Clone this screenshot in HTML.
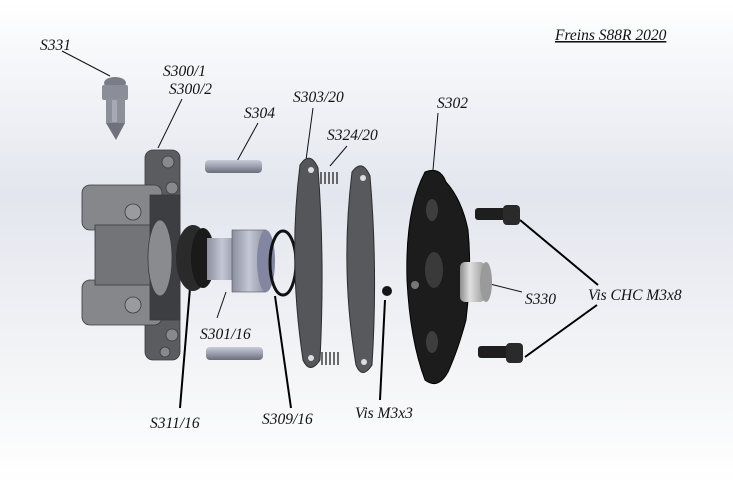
<!DOCTYPE html>
<html><head><meta charset="utf-8"><style>
html,body{margin:0;padding:0;width:733px;height:485px;overflow:hidden}
svg{display:block}
text{font-family:"Liberation Serif",serif;font-style:italic;font-size:15.5px;fill:#111}
</style></head><body>
<svg width="733" height="485" viewBox="0 0 733 485" xmlns="http://www.w3.org/2000/svg">
<defs>
<linearGradient id="bg" x1="0" y1="0" x2="0" y2="1">
<stop offset="0" stop-color="#ffffff"/><stop offset="0.4" stop-color="#e3e6ee"/><stop offset="0.7" stop-color="#f1f2f5"/><stop offset="1" stop-color="#ffffff"/>
</linearGradient>
<linearGradient id="pin" x1="0" y1="0" x2="0" y2="1"><stop offset="0" stop-color="#c8ccd8"/><stop offset="0.5" stop-color="#9a9eae"/><stop offset="1" stop-color="#6a6e7a"/></linearGradient>
<linearGradient id="pist" x1="0" y1="0" x2="1" y2="0"><stop offset="0" stop-color="#8a8e9e"/><stop offset="0.5" stop-color="#c4c7d4"/><stop offset="1" stop-color="#8f93a2"/></linearGradient>
<linearGradient id="cap" x1="0" y1="0" x2="1" y2="0"><stop offset="0" stop-color="#8c8c8c"/><stop offset="0.4" stop-color="#e0e0e0"/><stop offset="1" stop-color="#9a9a9a"/></linearGradient>
</defs>
<rect width="733" height="485" fill="url(#bg)"/>

<g stroke="#111" stroke-width="1" fill="none">
<line x1="62" y1="51" x2="110" y2="76"/>
<line x1="182" y1="99" x2="158" y2="148"/>
<line x1="258" y1="123" x2="236" y2="163"/>
<line x1="313" y1="108" x2="306" y2="160"/>
<line x1="347" y1="146" x2="330" y2="166"/>
<line x1="438" y1="113" x2="433" y2="170"/>
<line x1="522" y1="292" x2="490" y2="284"/>
<line x1="217" y1="318" x2="226" y2="292"/>
</g>
<g stroke="#000" stroke-width="2" fill="none">
<line x1="598" y1="285" x2="520" y2="220"/>
<line x1="597" y1="305" x2="525" y2="357"/>
<line x1="180" y1="408" x2="190" y2="288"/>
<line x1="291" y1="408" x2="275" y2="296"/>
<line x1="380" y1="400" x2="385" y2="300"/>
</g>

<!-- S331 bleeder -->
<g>
<ellipse cx="115" cy="83" rx="11" ry="6" fill="#7a7d88"/>
<rect x="102" y="85" width="26" height="15" rx="2" fill="#8b8e99"/>
<rect x="106" y="99" width="19" height="24" fill="#8d909b"/>
<polygon points="106,123 125,123 116,140" fill="#6f727c"/>
<rect x="112" y="100" width="5" height="22" fill="#a6a9b3"/>
</g>

<!-- caliper body -->
<g fill="#6e6f73" stroke="#3a3a3c" stroke-width="0.8">
<rect x="145" y="150" width="35" height="210" rx="8" fill="#5b5c60"/>
<rect x="82" y="185" width="80" height="45" rx="8" fill="#86878b"/>
<rect x="82" y="280" width="80" height="45" rx="8" fill="#86878b"/>
<rect x="95" y="225" width="60" height="60" fill="#737478"/>
<rect x="150" y="195" width="30" height="125" fill="#3d3e41"/>
<ellipse cx="160" cy="258" rx="12" ry="38" fill="#8a8b8f"/>
<circle cx="133" cy="212" r="8" fill="#9a9b9f"/>
<circle cx="133" cy="305" r="8" fill="#9a9b9f"/>
<circle cx="168" cy="162" r="6" fill="#88898d"/>
<circle cx="172" cy="188" r="6" fill="#88898d"/>
<circle cx="172" cy="335" r="6" fill="#88898d"/>
<circle cx="165" cy="352" r="5" fill="#88898d"/>
</g>

<ellipse cx="193" cy="258" rx="17" ry="33" fill="#2a2a2b"/>
<ellipse cx="203" cy="258" rx="12" ry="30" fill="#1a1a1a"/>
<rect x="207" y="238" width="30" height="42" fill="url(#pist)"/>
<rect x="232" y="230" width="34" height="62" fill="url(#pist)" stroke="#555" stroke-width="0.6"/>
<ellipse cx="266" cy="261" rx="9" ry="31" fill="#8286a0"/>
<ellipse cx="283" cy="263" rx="13" ry="32" fill="none" stroke="#111" stroke-width="3"/>

<rect x="205" y="160" width="57" height="13" rx="4" fill="url(#pin)"/>
<rect x="206" y="347" width="57" height="13" rx="4" fill="url(#pin)"/>

<path d="M300,165 Q310,150 318,168 Q325,260 320,360 Q310,375 303,360 Q288,260 300,165Z" fill="#555659" stroke="#2d2d2f"/>
<path d="M352,172 Q362,158 370,176 Q378,270 372,365 Q362,380 356,365 Q340,270 352,172Z" fill="#58595c" stroke="#2d2d2f"/>
<circle cx="311" cy="170" r="3" fill="#ddd"/><circle cx="311" cy="358" r="3" fill="#ddd"/>
<circle cx="363" cy="178" r="3" fill="#ddd"/><circle cx="364" cy="362" r="3" fill="#ddd"/>
<g stroke="#222" stroke-width="1.3" fill="none">
<path d="M321,172 v12 M325,172 v12 M329,172 v12 M333,172 v12 M337,172 v12"/>
<path d="M322,352 v13 M326,352 v13 M330,352 v13 M334,352 v13 M338,352 v13"/>
</g>
<circle cx="387" cy="291" r="5" fill="#151515"/>

<!-- S302 black plate -->
<path d="M425,172 Q440,166 446,182 Q462,200 468,230 Q472,270 466,320 Q458,350 448,372 Q438,390 425,380 Q410,340 407,280 Q405,210 425,172Z" fill="#1c1c1d" stroke="#000"/>
<ellipse cx="432" cy="210" rx="6" ry="11" fill="#3e3e3e"/>
<ellipse cx="434" cy="270" rx="9" ry="18" fill="#3a3a3a"/>
<ellipse cx="432" cy="342" rx="6" ry="11" fill="#3e3e3e"/>
<circle cx="415" cy="285" r="4" fill="#777"/>

<rect x="475" y="208" width="32" height="12" rx="3" fill="#1e1e1f"/>
<rect x="503" y="205" width="17" height="20" rx="4" fill="#2a2a2b"/>
<rect x="478" y="346" width="32" height="12" rx="3" fill="#1e1e1f"/>
<rect x="506" y="343" width="17" height="20" rx="4" fill="#2a2a2b"/>
<rect x="460" y="262" width="25" height="40" rx="5" fill="url(#cap)"/>
<ellipse cx="486" cy="282" rx="6" ry="20" fill="#9a9a9a"/>

<text x="40" y="50">S331</text>
<text x="163" y="76">S300/1</text>
<text x="169" y="94">S300/2</text>
<text x="244" y="118">S304</text>
<text x="293" y="102">S303/20</text>
<text x="327" y="140">S324/20</text>
<text x="437" y="108">S302</text>
<text x="555" y="40" text-decoration="underline">Freins S88R 2020</text>
<text x="588" y="300">Vis CHC M3x8</text>
<text x="525" y="304">S330</text>
<text x="200" y="339">S301/16</text>
<text x="150" y="428">S311/16</text>
<text x="262" y="424">S309/16</text>
<text x="355" y="418">Vis M3x3</text>
</svg>
</body></html>
